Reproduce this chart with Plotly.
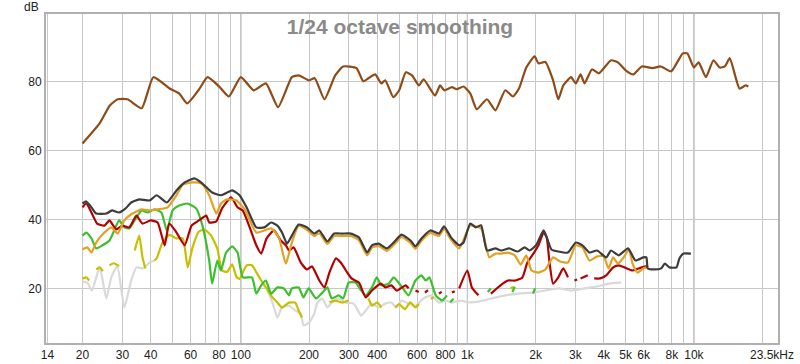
import plotly.graph_objects as go

# ---------------- data ----------------
brown_f = [20, 23.8, 26.4, 28.6, 31.6, 36.5, 41.1, 48.3, 53.4, 58, 65, 71.3, 80.2, 88.6, 100, 114, 129, 146, 168, 180,
           200, 212, 234, 261, 283, 324, 347, 366, 392, 417, 434, 471, 500, 535, 570, 611, 641, 720, 758, 789, 855,
           897, 962, 1030, 1100, 1220, 1330, 1470, 1590, 1690, 1820, 1980, 2060, 2210, 2390, 2520, 2650, 2870, 3010,
           3160, 3290, 3550, 3800, 4310, 4620, 5000, 5400, 5890, 6560, 7150, 7940, 8930, 9360, 10000, 10500, 11300,
           12200, 13000, 13700, 14400, 15900, 16900, 17400]
brown_db = [62.0, 67.8, 73.0, 74.8, 74.8, 72.2, 81.2, 78.0, 76.5, 73.6, 77.4, 81.2, 78.5, 75.6, 81.2, 77.4, 79.4, 72.5,
            81.2, 81.7, 80.3, 80.9, 74.8, 81.7, 84.3, 83.8, 80.0, 80.9, 82.0, 79.4, 80.3, 75.4, 77.4, 82.6, 81.7, 78.8,
            80.6, 75.9, 78.8, 77.4, 78.3, 77.7, 78.5, 76.5, 71.9, 74.8, 71.6, 77.4, 75.6, 77.9, 84.0, 87.2, 85.2, 85.6,
            80.3, 74.8, 78.8, 81.2, 79.4, 82.0, 79.4, 83.5, 82.3, 86.1, 85.5, 83.2, 82.0, 84.3, 83.8, 84.3, 82.9, 88.1,
            88.1, 84.0, 85.5, 81.2, 86.1, 84.0, 84.3, 86.7, 77.9, 78.8, 78.5]

dgray_f = [20, 20.8, 21.9, 23, 25.5, 27, 29, 31, 32.8, 35.6, 39.6, 42.5, 47.1, 52, 56.5, 62.4, 67.7, 74.7, 81.7, 87.1,
           91.6, 98.7, 106, 117, 127, 136, 145, 152, 160, 168, 180, 196, 211, 222, 241, 258, 280, 306, 332, 361, 379,
           406, 441, 482, 512, 561, 590, 627, 687, 749, 789, 847, 920, 962, 1030, 1090, 1150, 1220, 1330, 1410, 1530,
           1670, 1790, 1880, 2010, 2170, 2250, 2350, 2520, 2780, 3010, 3220, 3460, 3740, 4100, 4310, 4660, 5120, 5520,
           5980, 6170, 6260, 6700, 7170, 7440, 7800, 8380, 8630, 9000, 9700]
dgray_db = [44.6, 45.2, 43.5, 41.7, 41.7, 42.6, 42.0, 43.2, 44.9, 45.8, 45.5, 47.0, 44.9, 48.4, 50.7, 51.9, 50.4, 47.8,
            47.0, 47.8, 48.4, 47.0, 43.5, 37.7, 37.7, 39.1, 38.2, 36.2, 33.0, 35.3, 38.5, 37.7, 35.9, 36.8, 33.6, 35.9,
            35.9, 35.9, 34.8, 30.4, 32.5, 33.0, 31.6, 33.9, 35.6, 33.9, 32.2, 34.5, 36.8, 35.9, 38.0, 34.8, 32.5, 33.3,
            38.8, 37.7, 38.3, 31.0, 31.6, 31.0, 31.6, 30.7, 31.9, 31.0, 32.5, 36.8, 34.5, 31.3, 30.7, 30.4, 33.3, 32.5,
            30.4, 31.0, 29.0, 31.0, 29.6, 31.6, 28.1, 29.0, 29.0, 25.8, 25.5, 25.8, 27.2, 26.1, 26.1, 28.7, 30.1, 30.1]

orange_f = [20, 21, 21.9, 23, 24.5, 26.8, 28.6, 30.6, 33.2, 36.5, 39.6, 42.9, 47.5, 52, 55.4, 61.2, 67.1, 72.5, 77.9,
            81.7, 87, 95.7, 104, 117, 127, 136, 147, 158, 168, 180, 196, 211, 222, 241, 258, 280, 306, 332, 361, 379,
            406, 441, 482, 512, 561, 590, 627, 687, 749, 789, 847, 920, 1030, 1150, 1250, 1330, 1410, 1510, 1620, 1720,
            1820, 1920, 2060, 2210, 2390, 2570, 2780, 3010, 3220, 3460, 3740, 4000, 4200, 4400, 4620, 4900, 5170, 5360,
            5640, 5980, 6170]
orange_db = [31.3, 31.9, 30.4, 33.3, 35.6, 37.7, 35.9, 39.7, 41.7, 42.9, 42.6, 42.9, 43.5, 47.0, 50.1, 50.7, 50.4, 47.0,
             41.7, 44.6, 45.8, 45.5, 42.9, 36.2, 36.8, 37.4, 34.8, 27.2, 33.3, 38.2, 37.0, 35.2, 36.0, 32.9, 35.2, 35.2,
             35.2, 34.0, 29.6, 31.8, 32.3, 30.9, 33.2, 34.9, 33.2, 31.5, 33.8, 36.1, 35.2, 37.3, 34.1, 31.6, 38.2, 37.4,
             29.0, 30.1, 30.1, 30.4, 29.6, 26.9, 29.6, 25.2, 24.6, 25.5, 29.0, 27.8, 27.5, 32.5, 31.9, 28.1, 29.3, 29.3,
             25.8, 29.0, 27.2, 29.0, 31.3, 27.2, 24.6, 25.8, 26.1]

red_f = [20, 20.8, 21.9, 23.2, 25, 26.3, 28.2, 30, 32.2, 34.6, 36.8, 40, 42.9, 46.1, 48.3, 52, 56.5, 60.6, 65.3, 70.4,
         72.5, 77.9, 82.6, 90.6, 96.7, 102, 109, 117, 123, 130, 140, 150, 158, 163, 171, 184, 196, 206, 222, 234, 246,
         263, 276, 295, 308, 332, 356, 379, 415, 434, 462, 487, 534, 550, None, 590, 610, None, 650, 670, None, 749,
         770, None, 855, 880, None, 920, 1000, 1047, 1120, None, 1270, 1400, 1510, 1630, 1750, 1840, 1970, 2060, 2170,
         2240, 2300, 2390, 2520, 2650, 2780, None, 2970, 3050, None, 3160, 3400, None, 3630, 3860, 4100, 4400, 4660,
         4940, 5360, 5700, 6120, 6260]
red_db = [43.5, 44.6, 42.0, 38.8, 38.2, 39.7, 37.1, 38.2, 37.7, 41.1, 38.8, 39.7, 39.1, 32.5, 38.8, 36.2, 32.5, 38.2,
          39.7, 41.1, 39.1, 39.4, 43.2, 46.4, 43.5, 42.6, 38.0, 32.5, 30.1, 34.5, 36.8, 33.9, 32.5, 31.0, 31.9, 27.5,
          25.5, 26.4, 22.3, 20.3, 24.6, 28.7, 27.5, 24.6, 22.9, 21.7, 17.4, 19.4, 21.4, 20.3, 20.9, 19.4, 20.9, 20.0,
          None, 19.4, 19.0, None, 18.8, 19.5, None, 18.5, 19.0, None, 18.8, 19.2, None, 20.0, 25.2, 20.3, 18.0, None,
          18.5, 20.9, 22.3, 22.3, 23.2, 27.5, 30.4, 32.5, 36.2, 34.8, 28.1, 21.4, 23.2, 25.8, 23.2, None, 22.3, 22.6,
          None, 22.9, 23.8, None, 22.9, 22.9, 23.8, 26.1, 26.7, 26.1, 25.2, 25.8, 26.4, 26.1]

green_f = [20, 20.8, 21.9, 23, 24.5, 26.3, 27.6, 29, 30.6, 32.2, 34.6, 36.5, 38.7, 41.5, 44.6, 47.1, 50, 53.4, 58,
           63.5, 67.7, 72.5, 74.7, 78.7, 81.7, 86.1, 91.6, 96.7, 102, 112, 117, 123, 129, 136, 145, 155, 163, 168, 180,
           189, 199, 215, 229, 241, 252, 270, 283, 299, 321, 340, 356, 379, 398, 417, 450, 473, 508, 550, 590, 627,
           655, 680, 725, 773, 812, None, 840, 870, None, 1230, 1270, None, 1580, 1620, None, 1950, 1990]
green_db = [35.3, 36.2, 34.5, 31.6, 32.5, 33.9, 36.8, 39.7, 37.7, 37.4, 40.6, 42.6, 42.0, 42.9, 42.0, 36.8, 42.6, 44.0,
            44.6, 43.2, 38.2, 28.1, 21.4, 28.1, 25.2, 30.4, 32.2, 30.4, 23.2, 23.2, 18.5, 20.9, 22.3, 18.5, 20.3, 20.0,
            18.0, 20.0, 20.3, 17.4, 20.0, 17.1, 18.8, 20.3, 17.1, 18.0, 17.1, 21.7, 21.7, 19.4, 18.0, 20.3, 23.2, 20.9,
            21.4, 23.2, 20.9, 18.0, 22.3, 23.8, 22.3, 23.2, 18.0, 16.5, 18.0, None, 16.0, 17.0, None, 19.0, 20.0, None,
            19.0, 20.5, None, 18.5, 20.0]

yellow_f = [20, 20.8, 21.4, None, 23.0, 23.8, 24.6, None, 26.3, 27.5, 29.0, None, 34.0, 35.6, 36.8, 37.9, None, 41.5,
            42.5, 45.1, 48.3, 52, 55.4, 58.3, 61.2, 65.3, 69.3, 73.9, 78.7, 82.6, 87, 91.6, 95.7, 98.7, 106, 112, 118,
            123, 130, 138, 145, 152, 163, 174, 180, 186, None, 246, 260, 280, 299, None, 366, 380, 400, 417, None, 480,
            500, 530, 560, 590, 611, None, 690, 710, None, 1550, 1600]
yellow_db = [22.9, 23.2, 22.3, None, 25.5, 26.1, 25.0, None, 26.7, 27.3, 26.5, None, 31.0, 35.3, 29.0, 25.8, None, 28.1,
             28.7, 33.3, 35.5, 34.5, 34.5, 26.1, 31.9, 36.5, 37.0, 35.3, 31.6, 25.2, 24.8, 27.0, 23.3, 22.8, 26.7, 26.7,
             24.3, 22.3, 20.0, 17.4, 15.9, 14.5, 15.9, 15.9, 13.6, 11.6, None, 16.0, 16.5, 15.9, 16.5, None, 17.1, 15.0,
             16.0, 14.5, None, 14.5, 15.5, 14.0, 16.0, 14.5, 15.5, None, 17.0, 17.5, None, 20.0, 20.5]

lgray_f = [20, 21, 22, 23.8, 25.5, 26.8, 28.5, 30.6, 32.8, 34.6, 36.8, 39.6, 41.5, None, 130, 138, 145, 152, 163, 174,
           184, 189, 200, 211, 217, 229, 241, 252, 270, 290, 315, 340, 356, 379, 406, 434, 462, 487, 512, 550, 590,
           640, 694, 749, 802, 855, 940, 1010, 1120, 1280, 1470, 1670, 1920, 2210, 2520, 2870, 3290, 3740, 4220, 4780]
lgray_db = [22.0, 21.7, 19.4, 26.1, 17.1, 23.2, 26.5, 14.5, 22.3, 26.1, 25.8, 27.5, 28.1, None, 20.0, 15.9, 11.6, 14.5,
            15.0, 13.6, 12.7, 9.3, 10.1, 12.7, 15.6, 17.1, 14.5, 15.9, 17.1, 15.9, 15.6, 12.1, 13.6, 15.6, 14.5, 15.6,
            15.9, 14.5, 16.5, 15.6, 15.0, 17.1, 18.0, 15.9, 16.5, 15.9, 16.5, 16.0, 16.2, 17.1, 18.0, 18.5, 18.8, 19.4,
            20.0, 19.4, 20.0, 20.6, 21.4, 21.7]

# axis ticks / grid
grid_freqs = [14, 20, 30, 40, 50, 60, 70, 80, 90, 100, 200, 300, 400, 500, 600, 700, 800, 900, 1000,
              2000, 3000, 4000, 5000, 6000, 7000, 8000, 9000, 10000, 20000]
grid_labels = ["14", "20", "30", "40", "", "60", "", "80", "", "100", "200", "300", "400", "", "600", "", "800", "",
               "1k", "2k", "3k", "4k", "5k", "6k", "", "8k", "", "10k", ""]
end_label = "23.5kHz"
decade_lines = [100, 1000, 10000]
y_ticks = [20, 40, 60, 80]

series = [
    ("light gray", lgray_f, lgray_db, "#d9d9d9"),
    ("yellow", yellow_f, yellow_db, "#c8bf00"),
    ("green", green_f, green_db, "#3cbf2c"),
    ("red", red_f, red_db, "#b30000"),
    ("orange", orange_f, orange_db, "#e3a023"),
    ("dark gray", dgray_f, dgray_db, "#3c3c3c"),
    ("brown", brown_f, brown_db, "#8f4b17"),
]

fig = go.Figure()
for name, f, d, c in series:
    fig.add_trace(go.Scatter(x=f, y=d, mode="lines", name=name, connectgaps=False,
                             line=dict(color=c, width=2.2, shape="spline", smoothing=0.5),
                             hoverinfo="skip"))

for fx in decade_lines:
    fig.add_shape(type="line", xref="x", yref="paper", x0=fx, x1=fx, y0=0, y1=1,
                  line=dict(color="#8a8a8a", width=1), layer="below")

font = "Liberation Sans, Arial, sans-serif"
fig.update_layout(
    template="none",
    width=800, height=364,
    margin=dict(l=46, r=22, t=14, b=21, pad=0, autoexpand=False),
    paper_bgcolor="white", plot_bgcolor="white",
    showlegend=False,
    font=dict(family=font, size=12, color="#222222"),
    title=dict(text="<b>1/24 octave smoothing</b>", x=0.5, xref="container", xanchor="center",
               y=1 - 27 / 364, yanchor="middle", yref="container", automargin=False,
               font=dict(family=font, size=21, color="#8a8a8a")),
    xaxis=dict(type="log", range=[1.1399, 4.3713], tickvals=grid_freqs, ticktext=grid_labels,
               showgrid=True, gridcolor="#c8c8c8", gridwidth=1, zeroline=False, automargin=False,
               showline=True, mirror=True, linecolor="#b0b0b0", linewidth=2, ticks="",
               tickfont=dict(family=font, size=12, color="#222222")),
    yaxis=dict(range=[4.2, 99.5], tickvals=y_ticks, showgrid=True, gridcolor="#c8c8c8", gridwidth=1,
               zeroline=False, showline=True, mirror=True, linecolor="#b0b0b0", linewidth=2, ticks="",
               automargin=False, tickfont=dict(family=font, size=12, color="#222222")),
    annotations=[
        dict(text="dB", xref="paper", yref="paper", x=0, y=1, xanchor="right", yanchor="bottom",
             xshift=-5, yshift=-2, showarrow=False, font=dict(family=font, size=12, color="#222222")),
        dict(text=end_label, xref="x", yref="paper", x=4.3711, y=0, xanchor="center", yanchor="top",
             xshift=-6, yshift=-3, showarrow=False, font=dict(family=font, size=12, color="#222222")),
    ],
)

fig.write_html("out.html", config={"displayModeBar": False, "staticPlot": True},
               post_script="document.body.style.margin='0px';document.body.style.overflow='hidden';")
